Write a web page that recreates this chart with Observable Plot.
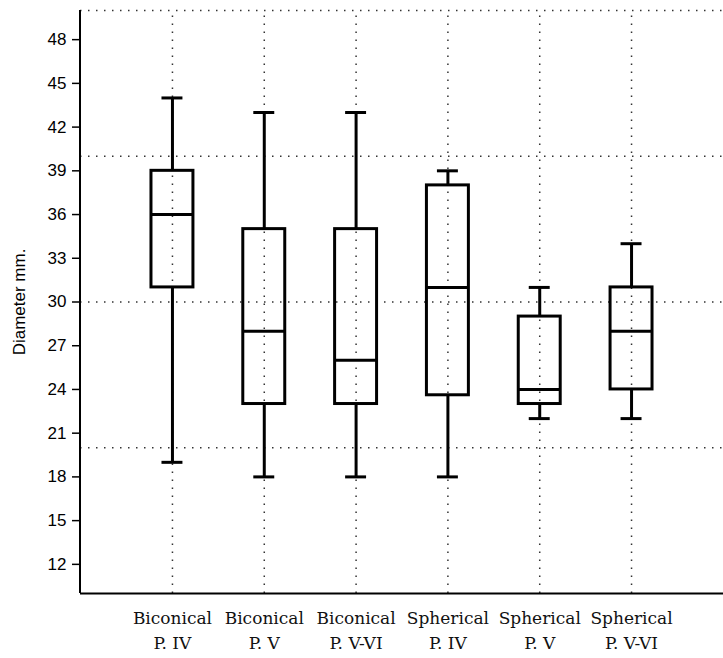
<!DOCTYPE html>
<html>
<head>
<meta charset="utf-8">
<script src="https://cdn.jsdelivr.net/npm/d3@7"></script>
<script src="https://cdn.jsdelivr.net/npm/@observablehq/plot@0.6"></script>
<style>
  html, body { margin: 0; padding: 0; background: #fff; }
</style>
</head>
<body>
<div id="chart"></div>
<script>
const categories = ["Biconical P. IV", "Biconical P. V", "Biconical P. V-VI", "Spherical P. IV", "Spherical P. V", "Spherical P. V-VI"];
const labelLines = [["Biconical", "P. IV"], ["Biconical", "P. V"], ["Biconical", "P. V-VI"], ["Spherical", "P. IV"], ["Spherical", "P. V"], ["Spherical", "P. V-VI"]];
const whiskerLow = [19, 18, 18, 18, 22, 22];
const q1 = [31, 23, 23, 23.6, 23, 24];
const median = [36, 28, 26, 31, 24, 28];
const q3 = [39, 35, 35, 38, 29, 31];
const whiskerHigh = [44, 43, 43, 39, 31, 34];
const yTicks = [12, 15, 18, 21, 24, 27, 30, 33, 36, 39, 42, 45, 48];
const gridY = [20, 30, 40, 50];
const yDomain = [10, 50];
const yLabel = "Diameter mm.";

const data = categories.map((c, i) => ({
  cat: c, lo: whiskerLow[i], q1: q1[i], med: median[i], q3: q3[i], hi: whiskerHigh[i]
}));
const labelOf = new Map(categories.map((c, i) => [c, labelLines[i].join("\n")]));

const dotted = {stroke: "#333", strokeWidth: 1.5, strokeDasharray: "1.5 6.5"};

const leftLine = (index, scales, values, dim) => {
  const ns = "http://www.w3.org/2000/svg";
  const l = document.createElementNS(ns, "line");
  l.setAttribute("x1", dim.marginLeft);
  l.setAttribute("x2", dim.marginLeft);
  l.setAttribute("y1", scales.y(yDomain[1]));
  l.setAttribute("y2", scales.y(yDomain[0]));
  l.setAttribute("stroke", "black");
  l.setAttribute("stroke-width", 2);
  return l;
};

const chart = Plot.plot({
  width: 723,
  height: 658,
  marginLeft: 80,
  marginRight: 0,
  marginTop: 10,
  marginBottom: 65,
  style: {fontFamily: "Liberation Sans", fontSize: "17px", background: "white", color: "black"},
  x: {type: "band", domain: categories, paddingInner: 0.543, paddingOuter: 0.773, round: false, axis: null},
  y: {domain: yDomain},
  marks: [
    Plot.ruleY(gridY, {...dotted}),
    Plot.ruleX(categories, {x: d => d, y1: yDomain[0], y2: yDomain[1], ...dotted}),
    Plot.ruleX(data, {x: "cat", y1: "q3", y2: "hi", stroke: "black", strokeWidth: 3}),
    Plot.ruleX(data, {x: "cat", y1: "lo", y2: "q1", stroke: "black", strokeWidth: 3}),
    Plot.tickY(data, {x: "cat", y: "hi", stroke: "black", strokeWidth: 3, insetLeft: 10.5, insetRight: 10.5}),
    Plot.tickY(data, {x: "cat", y: "lo", stroke: "black", strokeWidth: 3, insetLeft: 10.5, insetRight: 10.5}),
    Plot.barY(data, {x: "cat", y1: "q1", y2: "q3", fill: "none", stroke: "black", strokeWidth: 3}),
    Plot.tickY(data, {x: "cat", y: "med", stroke: "black", strokeWidth: 3}),
    Plot.ruleY([yDomain[0]], {stroke: "black", strokeWidth: 2}),
    leftLine,
    Plot.axisY({ticks: yTicks, tickSize: 8, tickPadding: 6, strokeWidth: 1.5, fontSize: 17, label: null}),
    Plot.text(categories, {x: d => d, frameAnchor: "bottom", lineAnchor: "top", dy: 12, text: d => labelOf.get(d), fontSize: 17, fontFamily: "DejaVu Serif", lineHeight: 1.5, fill: "#111"}),
    Plot.text([yLabel], {frameAnchor: "left", dx: -61, rotate: -90, textAnchor: "middle", lineAnchor: "middle", fontSize: 17, text: d => d})
  ]
});
document.getElementById("chart").appendChild(chart);
</script>
</body>
</html>
